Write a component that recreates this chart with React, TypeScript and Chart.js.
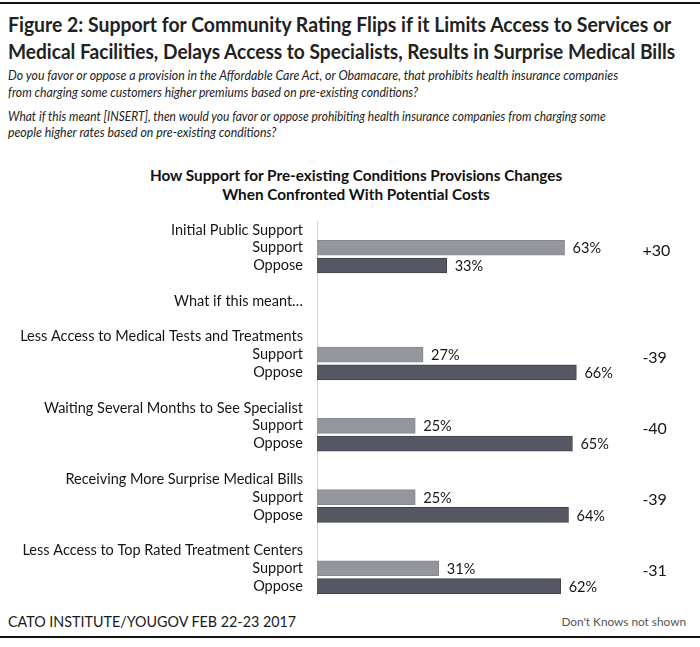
import React, { useEffect, useLayoutEffect, useRef } from "react";
import { Chart, registerables } from "chart.js";

Chart.register(...registerables);

const groupLabels = [
  "Initial Public Support",
  "Less Access to Medical Tests and Treatments",
  "Waiting Several Months to See Specialist",
  "Receiving More Surprise Medical Bills",
  "Less Access to Top Rated Treatment Centers",
];
const supportValues = [63, 27, 25, 25, 31];
const opposeValues = [33, 66, 65, 64, 62];
const netLabels = ["+30", "-39", "-40", "-39", "-31"];
const interludeLabel = "What if this meant…";
const supportLabel = "Support";
const opposeLabel = "Oppose";

const SUPPORT_COLOR = "#94969e";
const SUPPORT_BORDER = "#868890";
const OPPOSE_COLOR = "#555862";
const OPPOSE_BORDER = "#41434b";
const FONT = "Lato, 'Open Sans', sans-serif";

type Row = { label: string; value: number | null; kind: "head" | "s" | "o" | "blank"; group: number };

function buildRows(): Row[] {
  const rows: Row[] = [];
  groupLabels.forEach((g, i) => {
    if (i > 0) rows.push({ label: "", value: null, kind: "blank", group: -1 });
    if (i === 1) {
      rows.push({ label: interludeLabel, value: null, kind: "head", group: -1 });
      rows.push({ label: "", value: null, kind: "blank", group: -1 });
    }
    rows.push({ label: g, value: null, kind: "head", group: i });
    rows.push({ label: supportLabel, value: supportValues[i], kind: "s", group: i });
    rows.push({ label: opposeLabel, value: opposeValues[i], kind: "o", group: i });
  });
  return rows;
}

const BarChart: React.FC = () => {
  const ref = useRef<HTMLCanvasElement | null>(null);
  useEffect(() => {
    if (!ref.current) return;
    const rows = buildRows();
    const labelPlugin = {
      id: "valueLabels",
      afterDatasetsDraw(chart: any) {
        const ctx = chart.ctx;
        const meta = chart.getDatasetMeta(0);
        ctx.save();
        ctx.textBaseline = "middle";
        ctx.textAlign = "left";
        ctx.fillStyle = "#151515";
        rows.forEach((r, idx) => {
          if (r.value == null) return;
          const el = meta.data[idx];
          ctx.font = `14.5px ${FONT}`;
          ctx.fillText(`${r.value}%`, el.x + 8, el.y + 1);
          if (r.kind === "s") {
            ctx.font = `16px ${FONT}`;
            ctx.fillText(netLabels[r.group], chart.chartArea.right + 11, el.y + 3);
          }
        });
        ctx.restore();
      },
    };
    const chart = new Chart(ref.current, {
      type: "bar",
      data: {
        labels: rows.map((r) => r.label),
        datasets: [
          {
            data: rows.map((r) => r.value),
            backgroundColor: rows.map((r) => (r.kind === "o" ? OPPOSE_COLOR : SUPPORT_COLOR)),
            borderColor: rows.map((r) => (r.kind === "o" ? OPPOSE_BORDER : SUPPORT_BORDER)),
            borderWidth: 1,
            barThickness: 15,
          },
        ],
      },
      options: {
        indexAxis: "y",
        animation: false,
        responsive: false,
        layout: { padding: { top: 6, bottom: 5, left: 0, right: 68.6 } },
        plugins: { legend: { display: false }, tooltip: { enabled: false } },
        scales: {
          x: { display: false, min: 0, max: 80 },
          y: {
            afterFit: (scale: any) => {
              scale.width = 317;
              scale.paddingTop = 0;
              scale.paddingBottom = 0;
            },
            grid: { display: false, drawTicks: false },
            border: { display: true, color: "#d2d4d8", width: 1 },
            ticks: {
              autoSkip: false,
              padding: 14,
              color: "#151515",
              font: { family: FONT, size: 14.5 },
            },
          },
        },
      },
      plugins: [labelPlugin],
    });
    return () => chart.destroy();
  }, []);
  return (
    <canvas
      ref={ref}
      width={700}
      height={385}
      style={{ position: "absolute", left: 0, top: 215, width: 700, height: 385 }}
    />
  );
};

type FitProps = { top: number; left: number; width: number; style?: React.CSSProperties; children: React.ReactNode };

const FitText: React.FC<FitProps> = ({ top, left, width, style, children }) => {
  const ref = useRef<HTMLDivElement | null>(null);
  useLayoutEffect(() => {
    const el = ref.current;
    if (!el) return;
    el.style.transform = "none";
    const natural = el.scrollWidth;
    if (natural > 0) el.style.transform = `scaleX(${width / natural})`;
  }, [width]);
  return (
    <div
      ref={ref}
      style={{
        position: "absolute",
        top,
        left,
        whiteSpace: "nowrap",
        lineHeight: 1,
        display: "inline-block",
        transformOrigin: "0 0",
        ...style,
      }}
    >
      {children}
    </div>
  );
};

const titleStyle: React.CSSProperties = { fontSize: 21.5, fontWeight: 700, color: "#222" };
const questionStyle: React.CSSProperties = { fontSize: 13, fontStyle: "italic", color: "#222" };

export default function App() {
  return (
    <div
      style={{
        position: "absolute",
        left: 0,
        top: 0,
        width: 700,
        height: 647,
        background: "#fff",
        fontFamily: FONT,
        color: "#1a1a1a",
        overflow: "hidden",
      }}
    >
      <div style={{ position: "absolute", left: 0, top: 2, width: 700, height: 2, background: "#111" }} />
      <FitText top={14} left={8} width={663} style={titleStyle}>
        Figure 2: Support for Community Rating Flips if it Limits Access to Services or
      </FitText>
      <FitText top={41} left={8} width={667} style={titleStyle}>
        Medical Facilities, Delays Access to Specialists, Results in Surprise Medical Bills
      </FitText>
      <FitText top={69} left={8} width={610} style={questionStyle}>
        Do you favor or oppose a provision in the Affordable Care Act, or Obamacare, that prohibits health insurance companies
      </FitText>
      <FitText top={86} left={8} width={410} style={questionStyle}>
        from charging some customers higher premiums based on pre-existing conditions?
      </FitText>
      <FitText top={110} left={8} width={598} style={questionStyle}>
        What if this meant [INSERT], then would you favor or oppose prohibiting health insurance companies from charging some
      </FitText>
      <FitText top={126} left={8} width={268} style={questionStyle}>
        people higher rates based on pre-existing conditions?
      </FitText>
      <div
        style={{
          position: "absolute",
          top: 166,
          left: 0,
          width: 712,
          textAlign: "center",
          fontSize: 15.3,
          fontWeight: 700,
          lineHeight: "19px",
          color: "#111",
        }}
      >
        How Support for Pre-existing Conditions Provisions Changes
        <br />
        When Confronted With Potential Costs
      </div>
      <BarChart />
      <FitText top={614} left={8} width={288} style={{ fontSize: 15, color: "#1a1a1a" }}>
        CATO INSTITUTE/YOUGOV FEB 22-23 2017
      </FitText>
      <div
        style={{
          position: "absolute",
          top: 616,
          left: 0,
          width: 686,
          textAlign: "right",
          whiteSpace: "nowrap",
          lineHeight: 1,
          fontSize: 11.8,
          color: "#555",
        }}
      >
        Don't Knows not shown
      </div>
      <div style={{ position: "absolute", left: 0, top: 636, width: 700, height: 2, background: "#111" }} />
    </div>
  );
}
